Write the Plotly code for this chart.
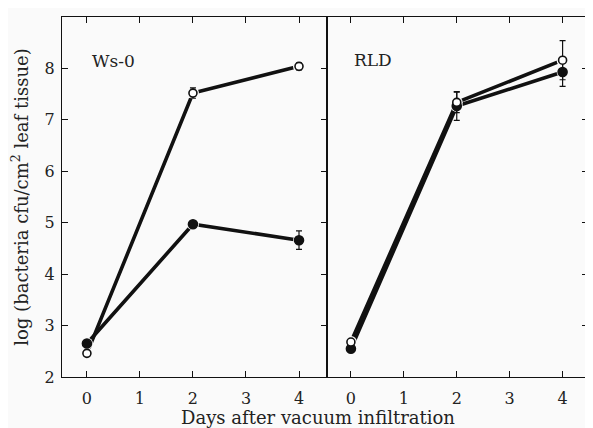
import plotly.graph_objects as go

days = [0, 2, 4]

ws0_open = [2.46, 7.52, 8.04]
ws0_open_err = [0.06, 0.10, 0.07]
ws0_filled = [2.65, 4.97, 4.66]
ws0_filled_err = [0.04, 0.05, 0.18]

rld_open = [2.68, 7.34, 8.16]
rld_open_err = [0.05, 0.2, 0.38]
rld_filled = [2.55, 7.27, 7.93]
rld_filled_err = [0.04, 0.28, 0.28]

panel_labels = ["Ws-0", "RLD"]
y_ticks = [2, 3, 4, 5, 6, 7, 8, 9]
x_ticks = [0, 1, 2, 3, 4]

FONT = "DejaVu Serif"
BLACK = "#111111"
TXT = "#222222"
BG = "#fafafa"

fig = go.Figure()

panels = [
    ("x", "y", [(ws0_filled, ws0_filled_err, True), (ws0_open, ws0_open_err, False)]),
    ("x2", "y2", [(rld_filled, rld_filled_err, True), (rld_open, rld_open_err, False)]),
]

for xa, ya, series in panels:
    # connecting lines
    for y, err, filled in series:
        fig.add_trace(go.Scatter(
            x=days, y=y, mode="lines", line=dict(color=BLACK, width=3.6),
            xaxis=xa, yaxis=ya, showlegend=False, hoverinfo="skip"))
    # white halos to leave a small gap between line and marker
    for y, err, filled in series:
        fig.add_trace(go.Scatter(
            x=days, y=y, mode="markers",
            marker=dict(symbol="circle", size=12, color=BG, line=dict(width=0)),
            xaxis=xa, yaxis=ya, showlegend=False, hoverinfo="skip"))
    # markers with error bars
    for y, err, filled in series:
        fig.add_trace(go.Scatter(
            x=days, y=y, mode="markers",
            marker=dict(symbol="circle", size=9 if filled else 8,
                        color=BLACK if filled else "white",
                        line=dict(color=BLACK, width=1.6)),
            error_y=dict(type="data", array=err, color=BLACK, thickness=1.2, width=3),
            xaxis=xa, yaxis=ya, showlegend=False, cliponaxis=False))

axis_common = dict(
    showline=True, linecolor=BLACK, linewidth=1.3,
    ticks="inside", ticklen=6, tickwidth=1.2, tickcolor=BLACK,
    showgrid=False, zeroline=False, automargin=False,
    tickfont=dict(family=FONT, size=16, color=TXT),
)

# page body has an 8px default margin; figure is shifted accordingly
fig.update_layout(
    width=585, height=420,
    margin=dict(l=54, r=5, t=9, b=51),
    paper_bgcolor=BG, plot_bgcolor=BG,
    xaxis=dict(domain=[0, 0.504], range=[-0.47, 4.53], tickvals=x_ticks,
               mirror="ticks", anchor="y", ticklabelstandoff=7, **axis_common),
    xaxis2=dict(domain=[0.504, 1], range=[-0.45, 4.48], tickvals=x_ticks,
                mirror="ticks", anchor="y2", ticklabelstandoff=7, **axis_common),
    yaxis=dict(domain=[0, 1], range=[2, 9], tickvals=y_ticks, mirror="ticks",
               anchor="x", ticklabelstandoff=3,
               title=dict(text="log (bacteria cfu/cm<sup>2</sup> leaf tissue)",
                          font=dict(family=FONT, size=18, color=TXT),
                          standoff=12),
               **axis_common),
    yaxis2=dict(domain=[0, 1], range=[2, 9], tickvals=y_ticks, side="right",
                showticklabels=False, mirror=True, anchor="x2", **axis_common),
    annotations=[
        dict(x=0.51, y=8.15, xref="x", yref="y", text=panel_labels[0],
             showarrow=False, font=dict(family=FONT, size=17, color=TXT)),
        dict(x=0.42, y=8.16, xref="x2", yref="y2", text=panel_labels[1],
             showarrow=False, font=dict(family=FONT, size=17, color=TXT)),
        dict(x=0.487, y=0, xref="paper", yref="paper", yshift=-40,
             text="Days after vacuum infiltration", showarrow=False,
             yanchor="middle", xanchor="center",
             font=dict(family=FONT, size=18, color=TXT)),
    ],
)

fig.write_html("out.html")
